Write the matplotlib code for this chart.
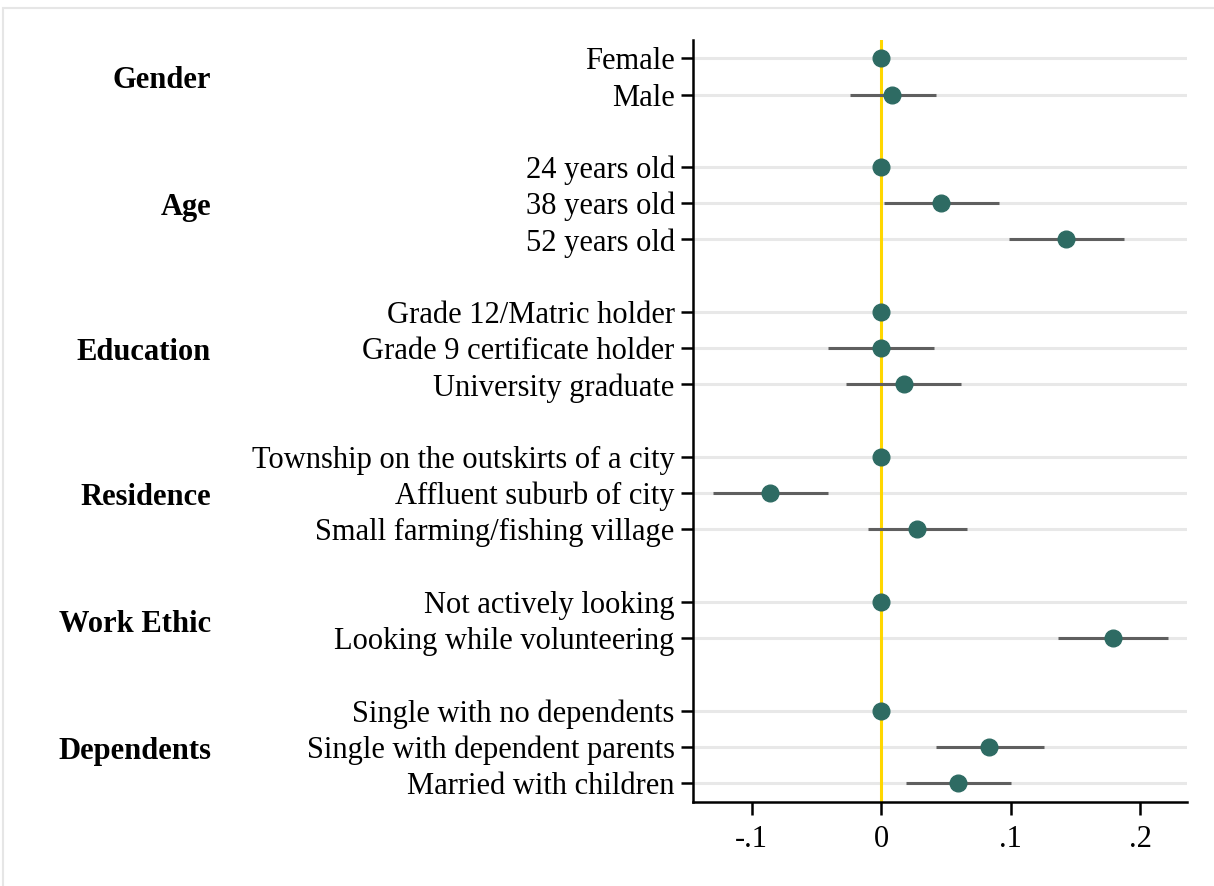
import matplotlib
matplotlib.use("Agg")
import matplotlib.pyplot as plt
from matplotlib.patches import Rectangle
from matplotlib.transforms import blended_transform_factory, ScaledTranslation

plt.rcParams["font.family"] = ["Liberation Serif", "DejaVu Serif"]

# Attribute levels (top to bottom) and the group each belongs to
groups = ["Gender", "Age", "Education", "Residence", "Work Ethic", "Dependents"]
levels = [
    ["Female", "Male"],
    ["24 years old", "38 years old", "52 years old"],
    ["Grade 12/Matric holder", "Grade 9 certificate holder", "University graduate"],
    ["Township on the outskirts of a city", "Affluent suburb of city",
     "Small farming/fishing village"],
    ["Not actively looking", "Looking while volunteering"],
    ["Single with no dependents", "Single with dependent parents",
     "Married with children"],
]

# Estimates with 95% confidence bounds (baseline levels are 0 with no interval)
estimates = [
    [0.0, 0.0087],
    [0.0, 0.0466, 0.143],
    [0.0, 0.0, 0.0175],
    [0.0, -0.0855, 0.0276],
    [0.0, 0.1794],
    [0.0, 0.0836, 0.0592],
]
lower = [
    [None, -0.0242],
    [None, 0.0026, 0.0991],
    [None, -0.0409, -0.0268],
    [None, -0.130, -0.0098],
    [None, 0.1369],
    [None, 0.0422, 0.0196],
]
upper = [
    [None, 0.0427],
    [None, 0.0909, 0.1874],
    [None, 0.0412, 0.0618],
    [None, -0.0412, 0.0662],
    [None, 0.2214],
    [None, 0.1256, 0.1004],
]

xticks = [-0.1, 0.0, 0.1, 0.2]
xticklabels = ["-.1", "0", ".1", ".2"]

point_color = "#2E6B63"
ci_color = "#5F5F5F"
zero_color = "#FFD700"
grid_color = "#E8E8E8"
FS = 22

fig = plt.figure(figsize=(12.14, 8.86), dpi=100)
ax = fig.add_axes([0.5706, 0.0952, 0.9778 - 0.5706, 0.9549 - 0.0952])

# Lay out rows, leaving one blank row between groups
ypos, labels, group_y = [], [], []
row = 0
for g, lv in zip(groups, levels):
    start = row
    for name in lv:
        ypos.append(row)
        labels.append(name)
        row += 1
    group_y.append((start + row - 1) / 2)
    row += 1

flat_est = [v for grp in estimates for v in grp]
flat_lo = [v for grp in lower for v in grp]
flat_hi = [v for grp in upper for v in grp]

for y in ypos:
    ax.axhline(y, color=grid_color, lw=2.2, zorder=0)

ax.axvline(0, color=zero_color, lw=2.2, zorder=1)

for y, est, lo, hi in zip(ypos, flat_est, flat_lo, flat_hi):
    if lo is not None:
        ax.plot([lo, hi], [y, y], color=ci_color, lw=2.2,
                solid_capstyle="butt", zorder=2)
    ax.plot(est, y, "o", color=point_color, ms=12, mec=point_color, zorder=3)

ax.set_xlim(-0.1454, 0.2363)
ax.set_ylim(row - 1 - 0.5 + 0.01, -0.505)

ax.set_yticks(ypos)
ax.set_yticklabels(labels, fontsize=FS)
ax.set_xticks(xticks)
ax.set_xticklabels(xticklabels, fontsize=FS)
ax.tick_params(axis="y", length=9, width=1.8, pad=4)
ax.tick_params(axis="x", length=9, width=1.8, pad=8)

for side in ["top", "right"]:
    ax.spines[side].set_visible(False)
for side in ["left", "bottom"]:
    ax.spines[side].set_linewidth(1.8)

# Group headings to the left of the level labels
heading_tr = blended_transform_factory(fig.transFigure, ax.transData) + \
    ScaledTranslation(0, -4.5 / 100, fig.dpi_scale_trans)
for g, gy in zip(groups, group_y):
    ax.text(211 / 1214, gy, g, transform=heading_tr,
            ha="right", va="center", fontsize=FS, fontweight="bold")

# Faint outer frame
fig.patches.append(Rectangle((3 / 1214, -0.01), 1.02, 1 - 8 / 886 + 0.01,
                             transform=fig.transFigure, fill=False,
                             edgecolor="#E6E6E6", lw=1.5))

fig.savefig("out.png", dpi=100, facecolor="white")
